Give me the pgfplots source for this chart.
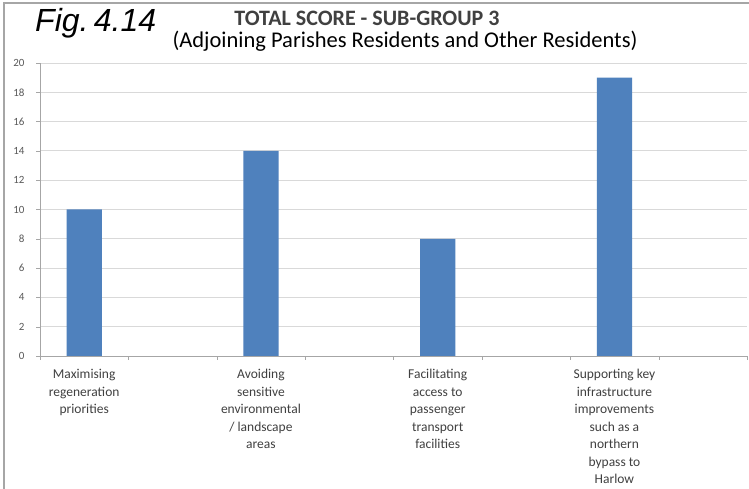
\documentclass[border=0pt]{standalone}
\usepackage{fontspec}
\setmainfont{Carlito}
\newfontfamily\arialfont{Liberation Sans}
\usepackage{pgfplots}
\pgfplotsset{compat=1.18}
\definecolor{barblue}{HTML}{4F81BD}
\definecolor{gridgray}{HTML}{D9D9D9}
\definecolor{axgray}{HTML}{A6A6A6}
\definecolor{ticktext}{HTML}{595959}
\definecolor{labtext}{HTML}{404040}
\begin{document}
\begin{tikzpicture}[x=1pt,y=1pt]
\useasboundingbox (0,0) rectangle (749,489);
\fill[white] (0,0) rectangle (749,489);
\draw[black!35, line width=1.5pt] (4,0) -- (4,486) -- (749,486);
\node[anchor=base west, inner sep=0pt] at (35,457) {\arialfont\itshape\fontsize{32}{32}\selectfont Fig.\,4.14};
\node[anchor=base, inner sep=0pt, text=labtext] at (367,463) {\fontsize{22}{22}\selectfont\bfseries TOTAL SCORE - SUB-GROUP 3};
\node[anchor=base, inner sep=0pt] at (405,441) {\fontsize{22.5}{22.5}\selectfont (Adjoining Parishes Residents and Other Residents)};
\begin{axis}[
  at={(40pt,133pt)}, anchor=south west,
  width=707pt, height=293pt, scale only axis,
  xmin=0, xmax=8, ymin=0, ymax=20,
  axis lines*=left,
  axis line style={axgray},
  ytick={0,2,...,20},
  ymajorgrids, grid style={gridgray, line width=0.8pt},
  tick align=outside, major tick length=4pt,
  tick style={axgray},
  /pgf/number format/assume math mode=true,
  y tick label style={font=\fontsize{11}{12}\selectfont, text=ticktext, xshift=-8pt},
  xtick={0,1,...,8}, xticklabels={},
  extra x ticks={0.5,2.5,4.5,6.5},
  extra x tick labels={Maximising\\regeneration\\priorities,
    Avoiding\\sensitive\\environmental\\/ landscape\\areas,
    Facilitating\\access to\\passenger\\transport\\facilities,
    Supporting key\\infrastructure\\improvements\\such as a\\northern\\bypass to\\Harlow},
  extra x tick style={major tick length=0pt, grid=none,
    tick label style={align=center, font=\fontsize{13.5}{17.5}\selectfont, text=labtext, anchor=north, yshift=-10pt}},
]
\addplot[ybar, bar width=0.4, fill=barblue, draw=none] coordinates {(0.5,10) (2.5,14) (4.5,8) (6.5,19)};
\end{axis}
\end{tikzpicture}
\end{document}
